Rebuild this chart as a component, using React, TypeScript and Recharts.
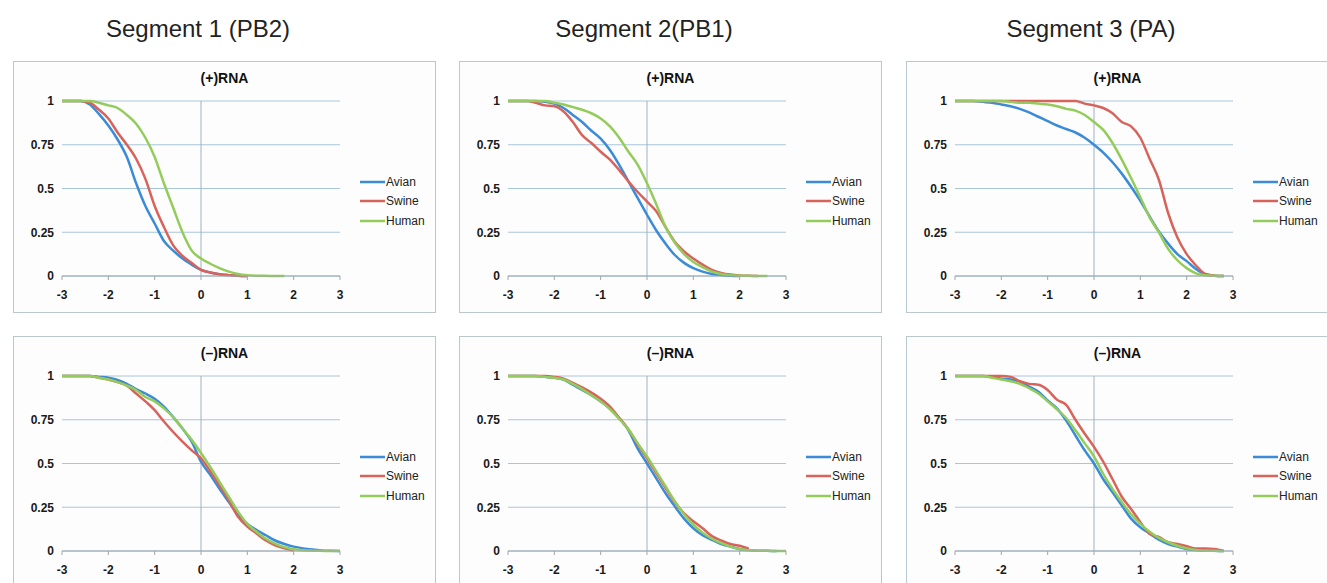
import { CartesianGrid, Legend, Line, LineChart, ReferenceLine, XAxis, YAxis } from "recharts"

// x positions shared by every curve (step 0.2)
const xs = [
  -3, -2.8, -2.6, -2.4, -2.2, -2, -1.8, -1.6, -1.4, -1.2, -1, -0.8, -0.6, -0.4, -0.2, 0,
  0.2, 0.4, 0.6, 0.8, 1, 1.2, 1.4, 1.6, 1.8, 2, 2.2, 2.4, 2.6, 2.8, 3,
]
const xTicks = [-3, -2, -1, 0, 1, 2, 3]
const yTicks = [0, 0.25, 0.5, 0.75, 1]

const segmentTitles = ["Segment 1 (PB2)", "Segment 2(PB1)", "Segment 3 (PA)"]
const strandTitles = ["(+)RNA", "(–)RNA"]
const seriesNames = ["Avian", "Swine", "Human"]
const seriesColors = ["#3b8bd8", "#d8635b", "#94cc5c"]

type V = number | null

// segment 1, (+)RNA
const s1PlusAvian: V[] = [1, 1, 1, 0.98, 0.925, 0.86, 0.78, 0.68, 0.53, 0.4, 0.3, 0.2, 0.145, 0.1, 0.065, 0.035, 0.02, 0.01, 0.005, 0.002, 0, null, null, null, null, null, null, null, null, null, null]
const s1PlusSwine: V[] = [1, 1, 1, 0.99, 0.95, 0.9, 0.82, 0.75, 0.67, 0.555, 0.4, 0.28, 0.175, 0.115, 0.075, 0.035, 0.02, 0.01, 0.005, 0.002, 0, null, null, null, null, null, null, null, null, null, null]
const s1PlusHuman: V[] = [1, 1, 1, 1, 0.99, 0.975, 0.96, 0.92, 0.87, 0.79, 0.68, 0.53, 0.39, 0.25, 0.145, 0.1, 0.07, 0.045, 0.025, 0.012, 0.005, 0.002, 0.001, 0, 0, null, null, null, null, null, null]

// segment 2, (+)RNA
const s2PlusAvian: V[] = [1, 1, 1, 1, 0.995, 0.985, 0.96, 0.92, 0.88, 0.83, 0.785, 0.72, 0.635, 0.54, 0.445, 0.35, 0.26, 0.185, 0.12, 0.075, 0.045, 0.025, 0.012, 0.006, 0.002, 0, null, null, null, null, null]
const s2PlusSwine: V[] = [1, 1, 1, 0.99, 0.975, 0.97, 0.94, 0.88, 0.805, 0.76, 0.71, 0.665, 0.605, 0.54, 0.48, 0.425, 0.37, 0.28, 0.195, 0.14, 0.1, 0.065, 0.035, 0.018, 0.008, 0.003, 0.001, 0, null, null, null]
const s2PlusHuman: V[] = [1, 1, 1, 1, 1, 0.99, 0.98, 0.965, 0.95, 0.93, 0.9, 0.855, 0.79, 0.71, 0.635, 0.53, 0.41, 0.28, 0.19, 0.125, 0.08, 0.05, 0.025, 0.012, 0.005, 0.002, 0.001, 0, 0, null, null]

// segment 3, (+)RNA
const s3PlusAvian: V[] = [1, 1, 1, 0.995, 0.99, 0.98, 0.97, 0.955, 0.935, 0.91, 0.885, 0.86, 0.84, 0.82, 0.79, 0.75, 0.705, 0.65, 0.585, 0.51, 0.43, 0.34, 0.255, 0.185, 0.125, 0.085, 0.04, 0.01, 0.002, 0, null]
const s3PlusSwine: V[] = [1, 1, 1, 1, 1, 1, 1, 1, 1, 1, 1, 1, 1, 1, 0.985, 0.975, 0.96, 0.93, 0.88, 0.855, 0.79, 0.67, 0.55, 0.36, 0.22, 0.125, 0.06, 0.012, 0.002, 0, null]
const s3PlusHuman: V[] = [1, 1, 1, 1, 1, 1, 0.995, 0.99, 0.99, 0.985, 0.98, 0.97, 0.955, 0.945, 0.92, 0.88, 0.835, 0.76, 0.665, 0.56, 0.45, 0.335, 0.25, 0.155, 0.09, 0.045, 0.015, 0.004, 0.001, 0, null]

// segment 1, (-)RNA
const s1MinusAvian: V[] = [1, 1, 1, 1, 0.995, 0.99, 0.977, 0.955, 0.925, 0.9, 0.87, 0.825, 0.765, 0.7, 0.625, 0.51, 0.435, 0.355, 0.28, 0.205, 0.155, 0.12, 0.09, 0.06, 0.04, 0.025, 0.015, 0.008, 0.003, 0.001, 0]
const s1MinusSwine: V[] = [1, 1, 1, 1, 0.99, 0.98, 0.965, 0.945, 0.9, 0.855, 0.805, 0.74, 0.68, 0.625, 0.575, 0.53, 0.455, 0.375, 0.29, 0.195, 0.14, 0.1, 0.06, 0.033, 0.015, 0.003, null, null, null, null, null]
const s1MinusHuman: V[] = [1, 1, 1, 1, 0.99, 0.98, 0.965, 0.945, 0.92, 0.88, 0.855, 0.815, 0.765, 0.7, 0.635, 0.56, 0.48, 0.395, 0.31, 0.225, 0.155, 0.11, 0.07, 0.042, 0.022, 0.01, 0.004, 0.002, 0.001, 0, 0]

// segment 2, (-)RNA
const s2MinusAvian: V[] = [1, 1, 1, 1, 0.995, 0.99, 0.98, 0.95, 0.92, 0.89, 0.855, 0.815, 0.76, 0.69, 0.585, 0.5, 0.415, 0.33, 0.255, 0.185, 0.13, 0.09, 0.063, 0.04, 0.025, 0.012, 0.005, 0.002, 0.001, 0, null]
const s2MinusSwine: V[] = [1, 1, 1, 1, 1, 0.995, 0.985, 0.96, 0.935, 0.905, 0.87, 0.825, 0.76, 0.695, 0.61, 0.53, 0.445, 0.36, 0.28, 0.215, 0.17, 0.13, 0.085, 0.06, 0.04, 0.03, 0.012, null, null, null, null]
const s2MinusHuman: V[] = [1, 1, 1, 1, 0.995, 0.99, 0.98, 0.955, 0.925, 0.89, 0.855, 0.81, 0.755, 0.695, 0.615, 0.54, 0.455, 0.37, 0.285, 0.21, 0.15, 0.105, 0.07, 0.045, 0.025, 0.012, 0.005, 0.002, 0.001, 0, 0]

// segment 3, (-)RNA
const s3MinusAvian: V[] = [1, 1, 1, 1, 0.995, 0.985, 0.98, 0.965, 0.94, 0.91, 0.86, 0.815, 0.745, 0.66, 0.575, 0.5, 0.41, 0.335, 0.26, 0.185, 0.135, 0.1, 0.065, 0.04, 0.025, 0.012, 0.005, 0.002, 0.001, 0, null]
const s3MinusSwine: V[] = [1, 1, 1, 1, 1, 1, 0.995, 0.97, 0.955, 0.95, 0.92, 0.865, 0.835, 0.75, 0.67, 0.595, 0.51, 0.41, 0.31, 0.24, 0.165, 0.098, 0.08, 0.05, 0.04, 0.027, 0.015, 0.015, 0.012, 0, null]
const s3MinusHuman: V[] = [1, 1, 1, 1, 0.99, 0.98, 0.97, 0.955, 0.93, 0.9, 0.855, 0.81, 0.76, 0.69, 0.615, 0.54, 0.44, 0.355, 0.28, 0.21, 0.155, 0.11, 0.075, 0.05, 0.03, 0.015, 0.006, 0.002, 0.001, 0, null]

const panels = [
  [
    [s1PlusAvian, s1PlusSwine, s1PlusHuman],
    [s2PlusAvian, s2PlusSwine, s2PlusHuman],
    [s3PlusAvian, s3PlusSwine, s3PlusHuman],
  ],
  [
    [s1MinusAvian, s1MinusSwine, s1MinusHuman],
    [s2MinusAvian, s2MinusSwine, s2MinusHuman],
    [s3MinusAvian, s3MinusSwine, s3MinusHuman],
  ],
]

const FONT = "'Liberation Sans', Arial, sans-serif"
const colLeft = [13, 459, 906]
const rowTop = [61, 336]
const BOX_W = 423
const BOX_H = 252

function LegendRows({ payload }: { payload?: any[] }) {
  // keep the series order (recharts sorts legend items by name)
  const items = [...(payload ?? [])].sort(
    (a, b) => seriesNames.indexOf(a.value) - seriesNames.indexOf(b.value)
  )
  return (
    <div style={{ fontFamily: FONT, fontSize: 12, color: "#222" }}>
      {items.map((p) => (
        <div key={p.value} style={{ display: "flex", alignItems: "center", height: 19.5 }}>
          <svg width={25} height={4}>
            <line x1={0} y1={2} x2={25} y2={2} stroke={p.color} strokeWidth={2.5} />
          </svg>
          <span style={{ marginLeft: 1 }}>{p.value}</span>
        </div>
      ))}
    </div>
  )
}

function Panel({ title, series }: { title: string; series: V[][] }) {
  const rows = xs.map((x, i) => ({
    x,
    avian: series[0][i],
    swine: series[1][i],
    human: series[2][i],
  }))
  const keys = ["avian", "swine", "human"]

  return (
    <div
      style={{
        position: "relative",
        width: BOX_W,
        height: BOX_H,
        boxSizing: "border-box",
        border: "1px solid #b9c8ce",
        background: "#fdfdfd",
      }}
    >
      <div
        style={{
          position: "absolute",
          top: 8,
          left: 0,
          width: BOX_W - 2,
          textAlign: "center",
          fontFamily: FONT,
          fontWeight: "bold",
          fontSize: 14,
          color: "#111",
        }}
      >
        {title}
      </div>
      <LineChart
        width={BOX_W - 2}
        height={BOX_H - 2}
        data={rows}
        margin={{ top: 39, right: 15, left: 0, bottom: 6 }}
      >
        <CartesianGrid vertical={false} stroke="#a9c6d9" strokeWidth={1} />
        <XAxis
          dataKey="x"
          type="number"
          domain={[-3, 3]}
          ticks={xTicks}
          height={30}
          stroke="#9ea7ae"
          tickSize={4}
          tickMargin={10}
          tick={{ fill: "#1a1a1a", fontSize: 12, fontWeight: "bold", fontFamily: FONT }}
        />
        <YAxis
          type="number"
          domain={[0, 1]}
          ticks={yTicks}
          width={48}
          axisLine={false}
          tickLine={false}
          tick={{ fill: "#1a1a1a", fontSize: 12, fontWeight: "bold", fontFamily: FONT }}
        />
        <ReferenceLine x={0} stroke="#9fb2bf" strokeWidth={1} />
        <Legend
          layout="vertical"
          align="right"
          verticalAlign="middle"
          content={(props: any) => <LegendRows payload={props.payload} />}
          wrapperStyle={{ left: 346, top: 110, width: 80 }}
        />
        {keys.map((k, i) => (
          <Line
            key={k}
            dataKey={k}
            name={seriesNames[i]}
            type="monotone"
            stroke={seriesColors[i]}
            strokeWidth={2.5}
            dot={false}
            activeDot={false}
            isAnimationActive={false}
          />
        ))}
      </LineChart>
    </div>
  )
}

export default function App() {
  return (
    <div
      style={{
        position: "absolute",
        left: 0,
        top: 0,
        width: 1327,
        height: 583,
        overflow: "hidden",
        background: "#ffffff",
      }}
    >
      {segmentTitles.map((t, c) => (
        <div
          key={t}
          style={{
            position: "absolute",
            left: colLeft[c] + 185 - 150,
            top: 15,
            width: 300,
            textAlign: "center",
            fontFamily: FONT,
            fontSize: 24,
            color: "#222",
          }}
        >
          {t}
        </div>
      ))}
      {panels.map((row, r) =>
        row.map((series, c) => (
          <div key={`${r}-${c}`} style={{ position: "absolute", left: colLeft[c], top: rowTop[r] }}>
            <Panel title={strandTitles[r]} series={series} />
          </div>
        ))
      )}
    </div>
  )
}
